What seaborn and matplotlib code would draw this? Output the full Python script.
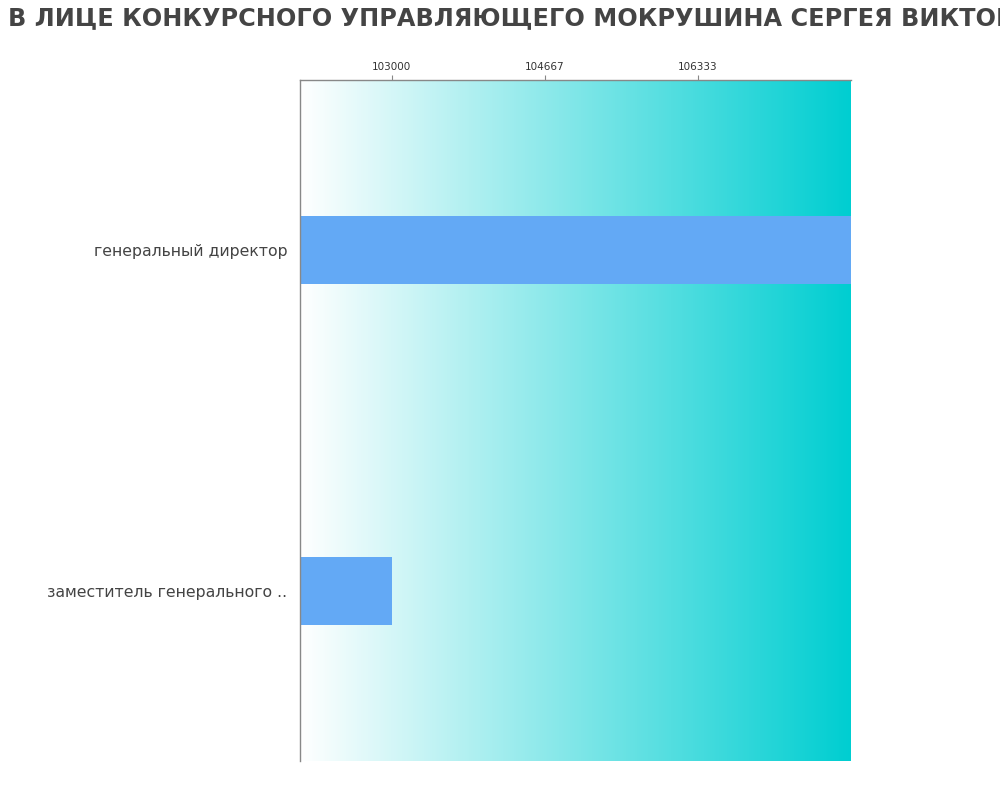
import numpy as np
import pandas as pd
import matplotlib.pyplot as plt
import seaborn as sns
from matplotlib.colors import LinearSegmentedColormap

positions = ["генеральный директор", "заместитель генерального .."]
salaries = [108000, 103000]
tick_values = [103000, 104667, 106333]
title = "В ЛИЦЕ КОНКУРСНОГО УПРАВЛЯЮЩЕГО МОКРУШИНА СЕРГЕЯ ВИКТОРОВИЧА"

df = pd.DataFrame({"position": positions, "salary": salaries})

sns.set_style("white")
plt.rcParams["font.family"] = ["DejaVu Sans"]

fig = plt.figure(figsize=(10, 8), dpi=100)
ax = fig.add_axes([0.3, 0.04875, 0.551, 0.85125])

x_min, x_max = 102000, 108000

# gradient background
cmap = LinearSegmentedColormap.from_list("bg", ["#ffffff", "#00ced1"])
grad = np.linspace(0, 1, 256).reshape(1, -1)
ax.imshow(grad, cmap=cmap, aspect="auto", extent=[x_min, x_max, 1.5, -0.5], zorder=0)

sns.barplot(data=df, x="salary", y="position", orient="h", color="#63a9f5",
            saturation=1, width=0.2, linewidth=0, ax=ax, zorder=2)

ax.set_xlim(x_min, x_max)
ax.set_ylim(1.5, -0.5)
ax.set_xlabel("")
ax.set_ylabel("")

ax.xaxis.tick_top()
ax.set_xticks(tick_values)
ax.set_xticklabels([str(v) for v in tick_values], fontsize=7.5, color="#333333")
ax.tick_params(axis="x", length=3.6, color="#888888", pad=2)
ax.tick_params(axis="y", length=0, labelsize=11.3, labelcolor="#444444", pad=9)
for lbl in ax.get_yticklabels():
    lbl.set_y(lbl.get_position()[1])

for side in ["right", "bottom"]:
    ax.spines[side].set_visible(False)
for side in ["top", "left"]:
    ax.spines[side].set_color("#888888")
    ax.spines[side].set_linewidth(1)

# the title runs past the right edge, as in the source chart
fig.text(0.008, 0.977, title, ha="left", va="center", fontsize=17.3,
         fontweight="bold", color="#444444")

fig.savefig("out.png", dpi=100)
